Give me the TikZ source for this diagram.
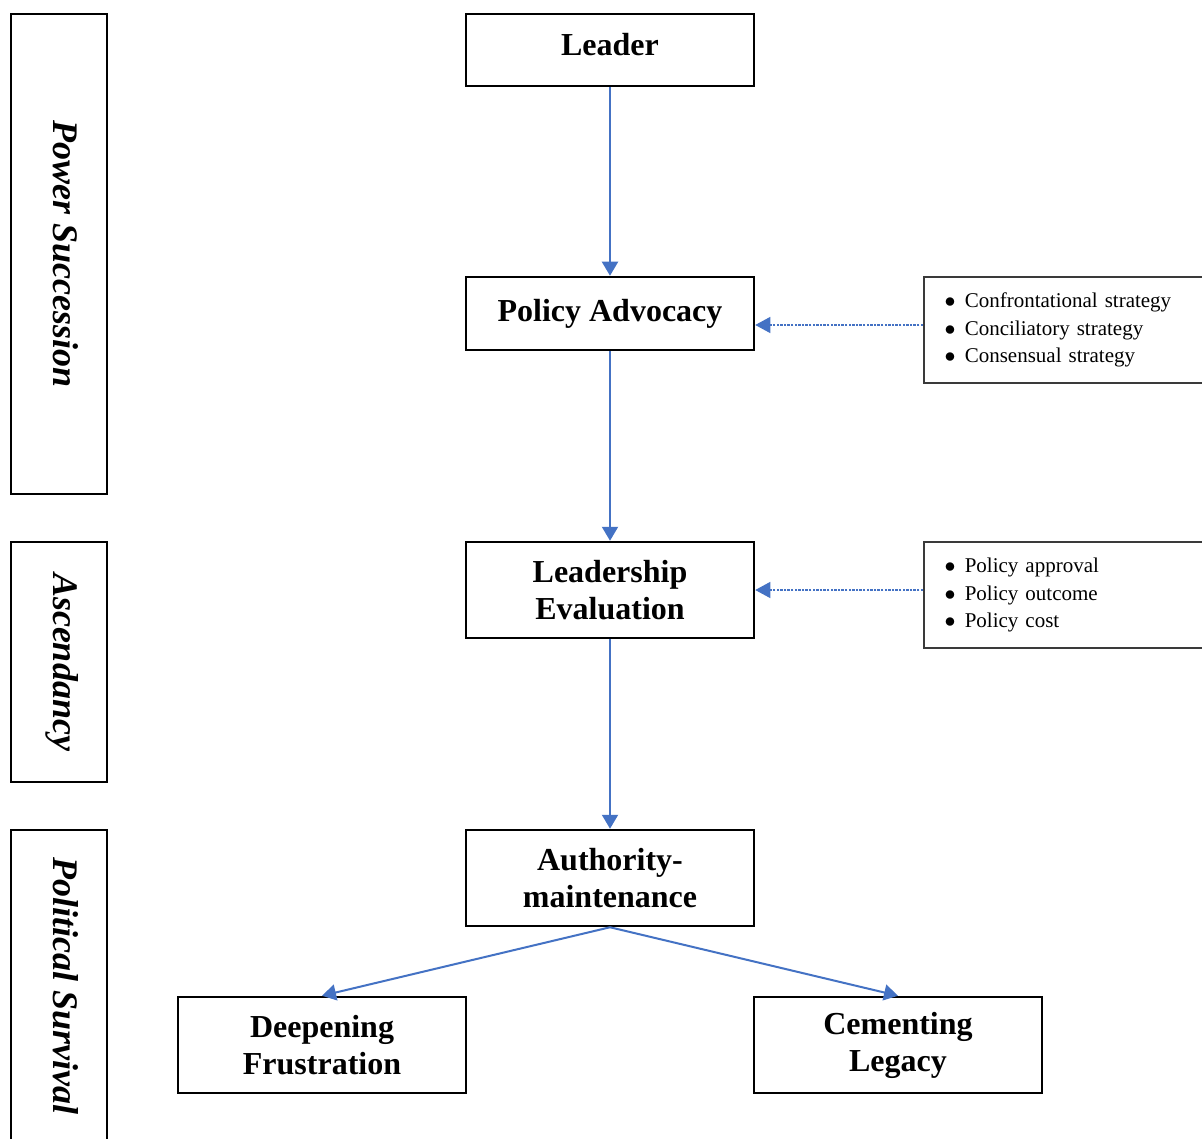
\documentclass[tikz,border=0pt]{standalone}
\usepackage{fontspec}
\setmainfont{Liberation Serif}
\usetikzlibrary{arrows.meta}
\definecolor{arrowblue}{HTML}{4472C4}
\definecolor{boxgray}{HTML}{3A3A3A}
\tikzset{
  mainbox/.style={draw=black, line width=1.25pt, minimum width=144pt, align=center,
    font=\fontsize{16}{18.5}\selectfont\bfseries, inner sep=2pt},
  sidebox/.style={draw=black, line width=0.75pt, rotate=-90, minimum height=48pt,
    text height=13pt, text depth=7.5pt,
    font=\fontsize{18}{20}\selectfont\bfseries\itshape, inner sep=0pt},
  listbox/.style={draw=boxgray, line width=0.75pt, minimum width=150pt, minimum height=53pt,
    text width=128pt, align=left, inner xsep=11pt, inner ysep=0pt,
    font=\fontsize{10.5}{13.75}\selectfont},
  flow/.style={draw=arrowblue, line width=1pt, -{Triangle[width=8pt,length=7pt]}, arrowblue},
  feed/.style={draw=arrowblue, line width=0.6pt, dash pattern=on 1.2pt off 0.6pt,
    -{Triangle[width=8pt,length=7.5pt]}, arrowblue},
}
\newcommand{\bul}{\makebox[9.5pt][l]{\hspace{-0.6pt}$\bullet$}}
\begin{document}
\begin{tikzpicture}[x=0.5pt,y=-0.5pt]
\clip (0,0) rectangle (1202,1138);
\fill[white] (0,0) rectangle (1202,1138);
% side labels
\node[sidebox, minimum width=240pt] (ps) at (59,254) {Power Succession};
\node[sidebox, minimum width=120pt] (asc) at (59,662) {Ascendancy};
\node[sidebox, minimum width=156pt] (pol) at (59,986) {Political Survival};
% main flow
\node[mainbox, minimum height=36pt, text depth=6pt] (leader) at (610,50) {Leader};
\node[mainbox, minimum height=36.5pt] (pa) at (610,313.5) {Policy Advocacy};
\node[mainbox, minimum height=48pt] (le) at (610,590) {Leadership\\Evaluation};
\node[mainbox, minimum height=48pt] (am) at (610,878) {Authority-\\maintenance};
\node[mainbox, minimum height=48pt] (df) at (322,1045) {Deepening\\Frustration};
\node[mainbox, minimum height=48pt] (cl) at (898,1045) {Cementing\\Legacy};
% lists
\node[listbox, anchor=west] (l1) at (923,330) {\bul Confrontational strategy\\\bul Conciliatory strategy\\\bul Consensual strategy};
\node[listbox, anchor=west] (l2) at (923,595) {\bul Policy approval\\\bul Policy outcome\\\bul Policy cost};
% connectors
\draw[flow] (leader.south) -- (pa.north);
\draw[flow] (pa.south) -- (le.north);
\draw[flow] (le.south) -- (am.north);
\draw[flow] (am.south) -- (df.north);
\draw[flow] (am.south) -- (cl.north);
\draw[feed] ([yshift=2.5pt]l1.west) -- ([yshift=2.5pt]pa.east |- l1.west);
\draw[feed] ([yshift=2.5pt]l2.west) -- ([yshift=2.5pt]le.east |- l2.west);
\end{tikzpicture}
\end{document}
